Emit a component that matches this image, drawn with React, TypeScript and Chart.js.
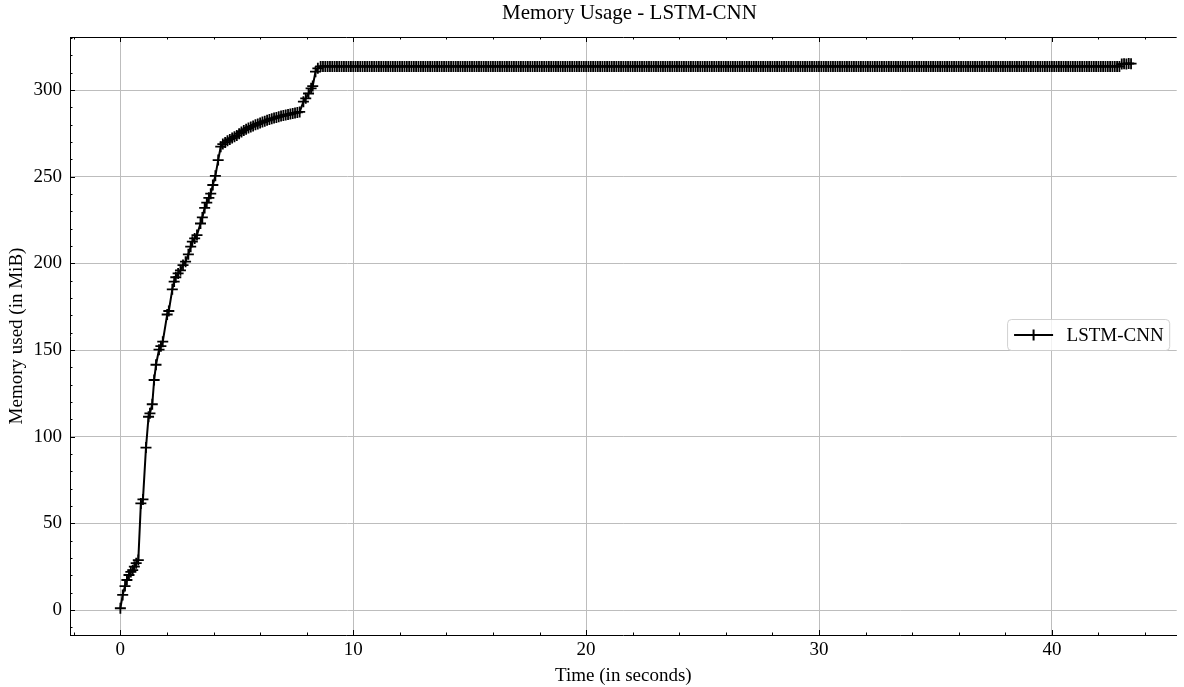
import React, { useEffect, useRef } from 'react';
import { Chart, registerables } from 'chart.js';

Chart.register(...registerables);

const chartTitle = 'Memory Usage - LSTM-CNN';
const xAxisTitle = 'Time (in seconds)';
const yAxisTitle = 'Memory used (in MiB)';
const seriesLabel = 'LSTM-CNN';
const xTickValues = [0, 10, 20, 30, 40];
const yTickValues = [0, 50, 100, 150, 200, 250, 300];

const timeSec = [
  0.00, 0.10, 0.20, 0.28, 0.37, 0.45, 0.53, 0.60, 0.68, 0.77,
  0.88, 0.97, 1.10, 1.21, 1.27, 1.37, 1.45, 1.53, 1.66, 1.74,
  1.82, 2.01, 2.08, 2.23, 2.31, 2.38, 2.48, 2.58, 2.69, 2.80,
  2.92, 3.02, 3.09, 3.19, 3.29, 3.44, 3.52, 3.62, 3.71, 3.80,
  3.88, 3.97, 4.08, 4.20, 4.31, 4.40, 4.50, 4.60, 4.70, 4.80,
  4.90, 5.00, 5.10, 5.20, 5.30, 5.40, 5.50, 5.60, 5.70, 5.80,
  5.90, 6.00, 6.10, 6.20, 6.30, 6.40, 6.50, 6.60, 6.70, 6.80,
  6.90, 7.00, 7.10, 7.20, 7.30, 7.40, 7.50, 7.60, 7.70, 7.86,
  7.96, 8.08, 8.19, 8.26, 8.38, 8.48,
  8.6, 8.7, 8.8, 8.9,
  9.0, 9.1, 9.2, 9.3, 9.4, 9.5, 9.6, 9.7, 9.8, 9.9,
  10.0, 10.1, 10.2, 10.3, 10.4, 10.5, 10.6, 10.7, 10.8, 10.9,
  11.0, 11.1, 11.2, 11.3, 11.4, 11.5, 11.6, 11.7, 11.8, 11.9,
  12.0, 12.1, 12.2, 12.3, 12.4, 12.5, 12.6, 12.7, 12.8, 12.9,
  13.0, 13.1, 13.2, 13.3, 13.4, 13.5, 13.6, 13.7, 13.8, 13.9,
  14.0, 14.1, 14.2, 14.3, 14.4, 14.5, 14.6, 14.7, 14.8, 14.9,
  15.0, 15.1, 15.2, 15.3, 15.4, 15.5, 15.6, 15.7, 15.8, 15.9,
  16.0, 16.1, 16.2, 16.3, 16.4, 16.5, 16.6, 16.7, 16.8, 16.9,
  17.0, 17.1, 17.2, 17.3, 17.4, 17.5, 17.6, 17.7, 17.8, 17.9,
  18.0, 18.1, 18.2, 18.3, 18.4, 18.5, 18.6, 18.7, 18.8, 18.9,
  19.0, 19.1, 19.2, 19.3, 19.4, 19.5, 19.6, 19.7, 19.8, 19.9,
  20.0, 20.1, 20.2, 20.3, 20.4, 20.5, 20.6, 20.7, 20.8, 20.9,
  21.0, 21.1, 21.2, 21.3, 21.4, 21.5, 21.6, 21.7, 21.8, 21.9,
  22.0, 22.1, 22.2, 22.3, 22.4, 22.5, 22.6, 22.7, 22.8, 22.9,
  23.0, 23.1, 23.2, 23.3, 23.4, 23.5, 23.6, 23.7, 23.8, 23.9,
  24.0, 24.1, 24.2, 24.3, 24.4, 24.5, 24.6, 24.7, 24.8, 24.9,
  25.0, 25.1, 25.2, 25.3, 25.4, 25.5, 25.6, 25.7, 25.8, 25.9,
  26.0, 26.1, 26.2, 26.3, 26.4, 26.5, 26.6, 26.7, 26.8, 26.9,
  27.0, 27.1, 27.2, 27.3, 27.4, 27.5, 27.6, 27.7, 27.8, 27.9,
  28.0, 28.1, 28.2, 28.3, 28.4, 28.5, 28.6, 28.7, 28.8, 28.9,
  29.0, 29.1, 29.2, 29.3, 29.4, 29.5, 29.6, 29.7, 29.8, 29.9,
  30.0, 30.1, 30.2, 30.3, 30.4, 30.5, 30.6, 30.7, 30.8, 30.9,
  31.0, 31.1, 31.2, 31.3, 31.4, 31.5, 31.6, 31.7, 31.8, 31.9,
  32.0, 32.1, 32.2, 32.3, 32.4, 32.5, 32.6, 32.7, 32.8, 32.9,
  33.0, 33.1, 33.2, 33.3, 33.4, 33.5, 33.6, 33.7, 33.8, 33.9,
  34.0, 34.1, 34.2, 34.3, 34.4, 34.5, 34.6, 34.7, 34.8, 34.9,
  35.0, 35.1, 35.2, 35.3, 35.4, 35.5, 35.6, 35.7, 35.8, 35.9,
  36.0, 36.1, 36.2, 36.3, 36.4, 36.5, 36.6, 36.7, 36.8, 36.9,
  37.0, 37.1, 37.2, 37.3, 37.4, 37.5, 37.6, 37.7, 37.8, 37.9,
  38.0, 38.1, 38.2, 38.3, 38.4, 38.5, 38.6, 38.7, 38.8, 38.9,
  39.0, 39.1, 39.2, 39.3, 39.4, 39.5, 39.6, 39.7, 39.8, 39.9,
  40.0, 40.1, 40.2, 40.3, 40.4, 40.5, 40.6, 40.7, 40.8, 40.9,
  41.0, 41.1, 41.2, 41.3, 41.4, 41.5, 41.6, 41.7, 41.8, 41.9,
  42.0, 42.1, 42.2, 42.3, 42.4, 42.5, 42.6, 42.7, 42.8, 42.9,
  43.0, 43.1, 43.2, 43.3, 43.4,
];

const memoryMiB = [
  1.0, 8.7, 13.8, 17.3, 20.2, 22.0, 23.0, 25.0, 27.0, 28.8,
  61.5, 63.8, 93.7, 111.5, 113.5, 118.7, 132.7, 141.5, 150.2, 152.2,
  154.8, 170.5, 172.5, 185.0, 189.5, 192.0, 194.2, 196.0, 199.0, 201.0,
  205.2, 209.6, 212.5, 214.4, 216.3, 223.0, 226.5, 232.0, 235.0, 237.8,
  240.2, 245.2, 250.5, 259.6, 267.3, 268.8, 269.8, 270.7, 271.5, 272.3,
  273.0, 273.8, 274.8, 275.8, 276.7, 277.4, 278.1, 278.7, 279.3, 279.9,
  280.4, 281.0, 281.5, 282.0, 282.5, 283.0, 283.4, 283.8, 284.2, 284.6,
  285.0, 285.3, 285.6, 285.9, 286.2, 286.5, 286.8, 287.1, 287.4, 293.3,
  295.2, 298.0, 301.0, 302.3, 310.6, 312.5,
  313.6, 313.6, 313.6, 313.6, // 8.6 - 8.9
  313.6, 313.6, 313.6, 313.6, 313.6, 313.6, 313.6, 313.6, 313.6, 313.6, // 9
  313.6, 313.6, 313.6, 313.6, 313.6, 313.6, 313.6, 313.6, 313.6, 313.6, // 10
  313.6, 313.6, 313.6, 313.6, 313.6, 313.6, 313.6, 313.6, 313.6, 313.6, // 11
  313.6, 313.6, 313.6, 313.6, 313.6, 313.6, 313.6, 313.6, 313.6, 313.6, // 12
  313.6, 313.6, 313.6, 313.6, 313.6, 313.6, 313.6, 313.6, 313.6, 313.6, // 13
  313.6, 313.6, 313.6, 313.6, 313.6, 313.6, 313.6, 313.6, 313.6, 313.6, // 14
  313.6, 313.6, 313.6, 313.6, 313.6, 313.6, 313.6, 313.6, 313.6, 313.6, // 15
  313.6, 313.6, 313.6, 313.6, 313.6, 313.6, 313.6, 313.6, 313.6, 313.6, // 16
  313.6, 313.6, 313.6, 313.6, 313.6, 313.6, 313.6, 313.6, 313.6, 313.6, // 17
  313.6, 313.6, 313.6, 313.6, 313.6, 313.6, 313.6, 313.6, 313.6, 313.6, // 18
  313.6, 313.6, 313.6, 313.6, 313.6, 313.6, 313.6, 313.6, 313.6, 313.6, // 19
  313.6, 313.6, 313.6, 313.6, 313.6, 313.6, 313.6, 313.6, 313.6, 313.6, // 20
  313.6, 313.6, 313.6, 313.6, 313.6, 313.6, 313.6, 313.6, 313.6, 313.6, // 21
  313.6, 313.6, 313.6, 313.6, 313.6, 313.6, 313.6, 313.6, 313.6, 313.6, // 22
  313.6, 313.6, 313.6, 313.6, 313.6, 313.6, 313.6, 313.6, 313.6, 313.6, // 23
  313.6, 313.6, 313.6, 313.6, 313.6, 313.6, 313.6, 313.6, 313.6, 313.6, // 24
  313.6, 313.6, 313.6, 313.6, 313.6, 313.6, 313.6, 313.6, 313.6, 313.6, // 25
  313.6, 313.6, 313.6, 313.6, 313.6, 313.6, 313.6, 313.6, 313.6, 313.6, // 26
  313.6, 313.6, 313.6, 313.6, 313.6, 313.6, 313.6, 313.6, 313.6, 313.6, // 27
  313.6, 313.6, 313.6, 313.6, 313.6, 313.6, 313.6, 313.6, 313.6, 313.6, // 28
  313.6, 313.6, 313.6, 313.6, 313.6, 313.6, 313.6, 313.6, 313.6, 313.6, // 29
  313.6, 313.6, 313.6, 313.6, 313.6, 313.6, 313.6, 313.6, 313.6, 313.6, // 30
  313.6, 313.6, 313.6, 313.6, 313.6, 313.6, 313.6, 313.6, 313.6, 313.6, // 31
  313.6, 313.6, 313.6, 313.6, 313.6, 313.6, 313.6, 313.6, 313.6, 313.6, // 32
  313.6, 313.6, 313.6, 313.6, 313.6, 313.6, 313.6, 313.6, 313.6, 313.6, // 33
  313.6, 313.6, 313.6, 313.6, 313.6, 313.6, 313.6, 313.6, 313.6, 313.6, // 34
  313.6, 313.6, 313.6, 313.6, 313.6, 313.6, 313.6, 313.6, 313.6, 313.6, // 35
  313.6, 313.6, 313.6, 313.6, 313.6, 313.6, 313.6, 313.6, 313.6, 313.6, // 36
  313.6, 313.6, 313.6, 313.6, 313.6, 313.6, 313.6, 313.6, 313.6, 313.6, // 37
  313.6, 313.6, 313.6, 313.6, 313.6, 313.6, 313.6, 313.6, 313.6, 313.6, // 38
  313.6, 313.6, 313.6, 313.6, 313.6, 313.6, 313.6, 313.6, 313.6, 313.6, // 39
  313.6, 313.6, 313.6, 313.6, 313.6, 313.6, 313.6, 313.6, 313.6, 313.6, // 40
  313.6, 313.6, 313.6, 313.6, 313.6, 313.6, 313.6, 313.6, 313.6, 313.6, // 41
  313.6, 313.6, 313.6, 313.6, 313.6, 313.6, 313.6, 313.6, 313.6, 313.6, // 42
  315.0, 315.2, 315.0, 315.3, 315.2, // 43.0 - 43.4
];

const FONT_FAMILY = "'Liberation Serif', 'Times New Roman', serif";
const LABEL_SIZE = 19;
const TITLE_SIZE = 21;

const decorPlugin = {
  id: 'mplDecor',
  afterDraw(chart: any) {
    const { ctx, chartArea: a, scales } = chart;
    const x = scales.x;
    const y = scales.y;
    ctx.save();
    ctx.strokeStyle = '#000';
    ctx.lineWidth = 1;

    // top spine
    ctx.beginPath();
    ctx.moveTo(a.left, a.top + 0.5);
    ctx.lineTo(a.right, a.top + 0.5);
    ctx.stroke();

    const xTick = (v: number, len: number) => {
      const px = Math.round(x.getPixelForValue(v)) + 0.5;
      if (px < a.left || px > a.right) return;
      ctx.beginPath();
      ctx.moveTo(px, a.bottom);
      ctx.lineTo(px, a.bottom - len);
      ctx.moveTo(px, a.top);
      ctx.lineTo(px, a.top + len);
      ctx.stroke();
    };
    const yTick = (v: number, len: number) => {
      const py = Math.round(y.getPixelForValue(v)) + 0.5;
      if (py < a.top || py > a.bottom) return;
      ctx.beginPath();
      ctx.moveTo(a.left, py);
      ctx.lineTo(a.left + len, py);
      ctx.stroke();
    };
    for (let v = Math.ceil(x.min / 2) * 2; v <= x.max; v += 2) {
      xTick(v, v % 10 === 0 ? 5 : 2.5);
    }
    for (let v = Math.ceil(y.min / 10) * 10; v <= y.max; v += 10) {
      yTick(v, v % 50 === 0 ? 5 : 2.5);
    }

    // title
    ctx.fillStyle = '#000';
    ctx.font = `${TITLE_SIZE}px ${FONT_FAMILY}`;
    ctx.textAlign = 'center';
    ctx.textBaseline = 'middle';
    ctx.fillText(chartTitle, (a.left + 1189) / 2, 13);

    // legend
    ctx.font = `${LABEL_SIZE}px ${FONT_FAMILY}`;
    const tw = ctx.measureText(seriesLabel).width;
    const cy = (a.top + a.bottom) / 2 - 1;
    const boxRight = a.right - 7;
    const textEnd = boxRight - 6;
    const textStart = textEnd - tw;
    const lineEnd = textStart - 13.5;
    const lineStart = lineEnd - 39;
    const boxLeft = lineStart - 6.5;
    const boxTop = cy - 15.5;
    const boxH = 31;
    const r = 4;
    ctx.beginPath();
    ctx.moveTo(boxLeft + r, boxTop);
    ctx.lineTo(boxRight - r, boxTop);
    ctx.arcTo(boxRight, boxTop, boxRight, boxTop + r, r);
    ctx.lineTo(boxRight, boxTop + boxH - r);
    ctx.arcTo(boxRight, boxTop + boxH, boxRight - r, boxTop + boxH, r);
    ctx.lineTo(boxLeft + r, boxTop + boxH);
    ctx.arcTo(boxLeft, boxTop + boxH, boxLeft, boxTop + boxH - r, r);
    ctx.lineTo(boxLeft, boxTop + r);
    ctx.arcTo(boxLeft, boxTop, boxLeft + r, boxTop, r);
    ctx.closePath();
    ctx.fillStyle = 'rgba(255,255,255,0.8)';
    ctx.fill();
    ctx.strokeStyle = 'rgba(204,204,204,0.9)';
    ctx.lineWidth = 1;
    ctx.stroke();

    ctx.strokeStyle = '#000';
    ctx.lineWidth = 2;
    ctx.beginPath();
    ctx.moveTo(lineStart, cy);
    ctx.lineTo(lineEnd, cy);
    const mx = (lineStart + lineEnd) / 2;
    ctx.moveTo(mx, cy - 5.5);
    ctx.lineTo(mx, cy + 5.5);
    ctx.stroke();

    ctx.fillStyle = '#000';
    ctx.textAlign = 'left';
    ctx.textBaseline = 'middle';
    ctx.fillText(seriesLabel, textStart, cy + 1);
    ctx.restore();
  },
};

export default function App() {
  const canvasRef = useRef<HTMLCanvasElement | null>(null);

  useEffect(() => {
    if (!canvasRef.current) return;
    const points = timeSec.map((t, i) => ({ x: t, y: memoryMiB[i] }));
    const chart = new Chart(canvasRef.current, {
      type: 'scatter',
      data: {
        datasets: [
          {
            label: seriesLabel,
            data: points,
            showLine: true,
            borderColor: '#000',
            backgroundColor: '#000',
            borderWidth: 2,
            pointStyle: 'cross',
            pointRadius: 5.5,
            pointBorderWidth: 1.8,
            pointBorderColor: '#000',
            pointHoverRadius: 5.5,
            tension: 0,
          } as any,
        ],
      },
      options: {
        animation: false,
        responsive: false,
        devicePixelRatio: 1,
        events: [],
        layout: { padding: { top: 37, left: 0, right: 0, bottom: 0 } },
        plugins: {
          legend: { display: false },
          title: { display: false },
          tooltip: { enabled: false },
        },
        scales: {
          x: {
            type: 'linear',
            min: -2.163,
            max: 45.36,
            afterBuildTicks: (s: any) => {
              s.ticks = xTickValues.map((v) => ({ value: v }));
            },
            afterFit: (s: any) => {
              s.height = 52;
            },
            grid: { color: '#bdbdbd', lineWidth: 1, drawTicks: false },
            border: { display: true, color: '#000', width: 1 },
            ticks: {
              color: '#000',
              padding: 4,
              maxRotation: 0,
              autoSkip: false,
              font: { family: FONT_FAMILY, size: LABEL_SIZE },
              callback: (v: any) => String(v),
            },
            title: {
              display: true,
              text: xAxisTitle,
              color: '#000',
              padding: { top: 0, bottom: 0 },
              font: { family: FONT_FAMILY, size: LABEL_SIZE },
            },
          },
          y: {
            type: 'linear',
            min: -14.42,
            max: 330.6,
            afterBuildTicks: (s: any) => {
              s.ticks = yTickValues.map((v) => ({ value: v }));
            },
            afterFit: (s: any) => {
              s.width = 70;
            },
            grid: { color: '#bdbdbd', lineWidth: 1, drawTicks: false },
            border: { display: true, color: '#000', width: 1 },
            ticks: {
              color: '#000',
              padding: 8,
              autoSkip: false,
              font: { family: FONT_FAMILY, size: LABEL_SIZE },
              callback: (v: any) => String(v),
            },
            title: {
              display: true,
              text: yAxisTitle,
              color: '#000',
              padding: { top: 6, bottom: 0 },
              font: { family: FONT_FAMILY, size: LABEL_SIZE },
            },
          },
        },
      },
      plugins: [decorPlugin],
    });
    return () => chart.destroy();
  }, []);

  return (
    <div style={{ position: 'fixed', left: 0, top: 0, width: 1184, height: 687, background: '#fff' }}>
      <canvas ref={canvasRef} width={1184} height={687} style={{ display: 'block' }} />
    </div>
  );
}
